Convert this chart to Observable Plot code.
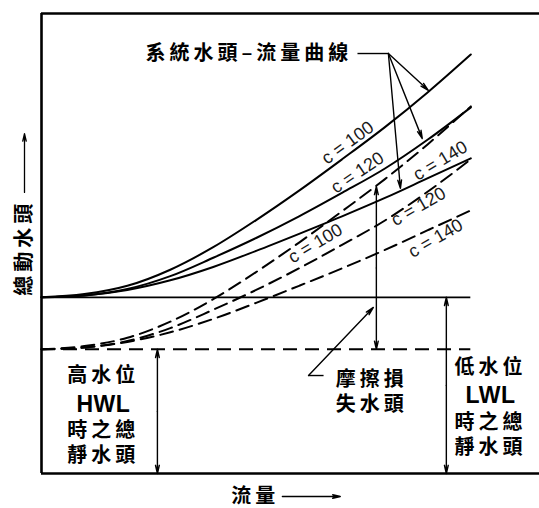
<!DOCTYPE html>
<html><head><meta charset="utf-8">
<script src="https://cdn.jsdelivr.net/npm/d3@7"></script>
<script src="https://cdn.jsdelivr.net/npm/@observablehq/plot@0.6"></script>
<style>
body{margin:0;background:#fff;}
#chart svg{background:#fff;}
</style></head><body><div id="chart"></div>
<script>
// ---- data (flow and head in arbitrary schematic units) ----
const flow = [0, 10, 20, 30, 40, 50, 60, 70, 80, 90, 100];
const frictionC100 = [0, 0.7, 2.5, 6.0, 10.9, 16.8, 23.2, 30.0, 37.0, 44.6, 52.8];
const frictionC120 = [0, 0.4, 1.8, 4.6, 8.6, 12.9, 17.6, 22.7, 28.0, 34.3, 41.3];
const frictionC140 = [0, 0.4, 1.6, 3.7, 6.6, 10.1, 13.8, 17.6, 21.6, 25.9, 30.2];
const cValues = [100, 120, 140];
const staticHeadLWL = 38.3;   // total static head at low water level
const staticHeadHWL = 27.0;   // total static head at high water level
const titleText = "系統水頭–流量曲線";
const yTitle = "總動水頭";
const xTitle = "流量";
const hwlLabel = ["高水位", "HWL", "時之總", "靜水頭"];
const lwlLabel = ["低水位", "LWL", "時之總", "靜水頭"];
const frictionLabel = ["摩擦損", "失水頭"];
const cLabels = cValues.map(c => `c = ${c}`);

// ---- build table ----
const frictions = [frictionC100, frictionC120, frictionC140];
const rows = [];
cValues.forEach((c, i) => {
  flow.forEach((q, j) => {
    rows.push({c, level: "LWL", flow: q, head: staticHeadLWL + frictions[i][j]});
    rows.push({c, level: "HWL", flow: q, head: staticHeadHWL + frictions[i][j]});
  });
});
const lwlRows = rows.filter(d => d.level === "LWL");
const hwlRows = rows.filter(d => d.level === "HWL");

const CJK = "'Noto Sans CJK TC', 'Noto Sans CJK SC', sans-serif";
const MIX = "'Liberation Sans', 'Noto Sans CJK TC', 'Noto Sans CJK SC', sans-serif";
const LAT = "'Liberation Sans', Arial, sans-serif";
const ink = "#000";

const arrow = (x1, y1, x2, y2, o = {}) =>
  Plot.arrow([{x1, y1, x2, y2}], {x1: "x1", y1: "y1", x2: "x2", y2: "y2",
    stroke: ink, strokeWidth: 1.4, headLength: 9, headAngle: 26, ...o});
const seg = (x1, y1, x2, y2, o = {}) =>
  Plot.link([{x1, y1, x2, y2}], {x1: "x1", y1: "y1", x2: "x2", y2: "y2",
    stroke: ink, strokeWidth: 1.4, ...o});
const block = (lines, x, yMid, o = {}) =>
  Plot.text([lines.join("\n")], {x: () => x, y: () => yMid, text: d => d,
    lineAnchor: "middle", lineHeight: 1.27, fill: ink, fontSize: 20,
    fontFamily: MIX, fontWeight: "bold", ...o});

const frameTop = 100;
const lwlArrowQ = 94.3, hwlArrowQ = 27.0, frictionQ = 78;
const frictionTop = staticHeadHWL + 35.4;
const cFont = {fontSize: 18, fontFamily: LAT, fill: "#1a1a1a"};

const plot = Plot.plot({
  width: 539, height: 508,
  marginLeft: 41, marginRight: 0, marginTop: 13, marginBottom: 35,
  x: {domain: [0, 116], axis: null},
  y: {domain: [0, 100], axis: null},
  style: {background: "#fff", overflow: "visible"},
  marks: [
    // frame
    Plot.ruleY([frameTop], {stroke: ink, strokeWidth: 2.6}),
    Plot.ruleX([0], {stroke: ink, strokeWidth: 2.6}),
    Plot.ruleY([0], {stroke: ink, strokeWidth: 2.6}),
    // static head lines
    Plot.ruleY([staticHeadLWL], {x1: 0, x2: 100, stroke: ink, strokeWidth: 1.8}),
    Plot.ruleY([staticHeadHWL], {x1: 0, x2: 100, stroke: ink, strokeWidth: 2, strokeDasharray: "14,8"}),
    // system curves
    Plot.line(lwlRows, {x: "flow", y: "head", z: "c", stroke: ink, strokeWidth: 2, curve: "monotone-x"}),
    Plot.line(hwlRows, {x: "flow", y: "head", z: "c", stroke: ink, strokeWidth: 2, curve: "monotone-x", strokeDasharray: "13,7"}),
    // static head arrows
    arrow(hwlArrowQ, staticHeadHWL / 2, hwlArrowQ, staticHeadHWL),
    arrow(hwlArrowQ, staticHeadHWL / 2, hwlArrowQ, 0),
    arrow(lwlArrowQ, staticHeadLWL / 2, lwlArrowQ, staticHeadLWL),
    arrow(lwlArrowQ, staticHeadLWL / 2, lwlArrowQ, 0),
    // friction head arrow
    arrow(frictionQ, (staticHeadHWL + frictionTop) / 2, frictionQ, frictionTop),
    arrow(frictionQ, (staticHeadHWL + frictionTop) / 2, frictionQ, staticHeadHWL),
    // friction label leader
    seg(65.7, 21.3, 62.2, 21.3),
    arrow(62.2, 21.3, 77.3, 36.1),
    // title callout
    seg(73.6, 91.3, 80.8, 91.3),
    arrow(80.8, 91.3, 90.1, 83.3),
    arrow(80.8, 91.3, 88.7, 72.8),
    arrow(80.8, 91.3, 83.6, 62.0),
    Plot.text([titleText], {x: () => 24.2, y: () => 91.3, text: d => d, textAnchor: "start",
      fill: ink, fontSize: 20, fontFamily: CJK, fontWeight: "bold"}),
    // c labels
    Plot.text([cLabels[0]], {x: () => 71.3, y: () => 71.9, text: d => d, rotate: -36, ...cFont}),
    Plot.text([cLabels[1]], {x: () => 73.6, y: () => 65.4, text: d => d, rotate: -34, ...cFont}),
    Plot.text([cLabels[2]], {x: () => 92.9, y: () => 68.0, text: d => d, rotate: -31, ...cFont}),
    Plot.text([cLabels[0]], {x: () => 63.8, y: () => 50.0, text: d => d, rotate: -31, ...cFont}),
    Plot.text([cLabels[1]], {x: () => 87.8, y: () => 58.0, text: d => d, rotate: -30, ...cFont}),
    Plot.text([cLabels[2]], {x: () => 91.8, y: () => 51.1, text: d => d, rotate: -30, ...cFont}),
    // block labels
    block(hwlLabel, 14.4, 13.3),
    block(lwlLabel, 104.6, 15.1),
    block(frictionLabel, 76.9, 18.1),
    // axis titles
    Plot.text([yTitle], {x: () => -3.96, y: () => 49.1, text: d => d, rotate: -90,
      fill: ink, fontSize: 20, fontFamily: CJK, fontWeight: "bold"}),
    arrow(-3.96, 61.1, -3.96, 73.9, {strokeWidth: 1.3}),
    Plot.text([xTitle], {x: () => 49.8, y: () => -5.0, text: d => d,
      fill: ink, fontSize: 20, fontFamily: CJK, fontWeight: "bold"}),
    arrow(56.1, -5.0, 69.6, -5.0, {strokeWidth: 1.3})
  ]
});
document.getElementById("chart").appendChild(plot);
// letter spacing for CJK labels; Latin lines (HWL / LWL) stay tight and a bit larger
const svgSel = d3.select(plot);
svgSel.selectAll("text")
  .filter(function() { return /[\u4e00-\u9fff]/.test(this.textContent); })
  .attr("letter-spacing", "4px");
svgSel.selectAll("tspan")
  .filter(function() { return /^[A-Z]+$/.test(this.textContent); })
  .attr("letter-spacing", "0.5px")
  .attr("font-size", "23px");
</script>
</body></html>
